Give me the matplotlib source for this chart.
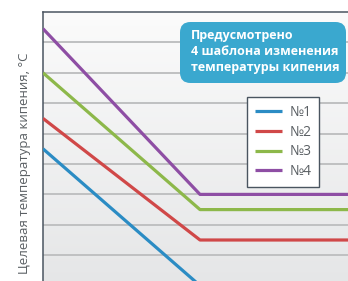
import numpy as np
import matplotlib
matplotlib.use('Agg')
import matplotlib.pyplot as plt
from matplotlib.patches import FancyBboxPatch

# Данные (условные единицы: одна линия сетки = 1)
x = [0, 5, 10]
series = ['№1', '№2', '№3', '№4']
vals_1 = [4.5, 0.0, 0.0]
vals_2 = [5.5, 1.5, 1.5]
vals_3 = [7.0, 2.5, 2.5]
vals_4 = [8.45, 3.0, 3.0]
colors = ['#2b8cc4', '#d04848', '#8db84a', '#8e4ea4']
grid_levels = [1, 2, 3, 4, 5, 6, 7, 8]

plt.rcParams['font.family'] = ['Open Sans', 'DejaVu Sans']

W, H = 348, 281
fig = plt.figure(figsize=(W / 100, H / 100), dpi=100)
fig.patch.set_facecolor('white')

def fx(px):
    return px / W

def fy(py):
    return 1 - py / H

ax = fig.add_axes([fx(43), fy(12 + 9 * 30.4), 314 / W, 9 * 30.4 / H])
ax.set_xlim(0, 10)
ax.set_ylim(0, 9)

# фон с градиентом
grad = np.linspace(0, 1, 256).reshape(-1, 1)
ax.imshow(grad, extent=[0, 10, 0, 9], aspect='auto', origin='lower',
          cmap=matplotlib.colors.LinearSegmentedColormap.from_list('bg', ['#e5e6e7', '#fbfbfb']),
          zorder=0)

for g in grid_levels:
    ax.axhline(g, color='#bfc0c1', lw=1.4, zorder=1)

for vals, name, c in zip([vals_1, vals_2, vals_3, vals_4], series, colors):
    ax.plot(x, vals, color=c, lw=2.3, label=name, zorder=3, solid_capstyle='butt')

for s in ['right', 'bottom']:
    ax.spines[s].set_visible(False)
for s in ['left', 'top']:
    ax.spines[s].set_color('#4a5560')
    ax.spines[s].set_linewidth(1.1)
ax.set_xticks([])
ax.set_yticks([])

leg = ax.legend(loc='upper left', bbox_to_anchor=(fx(247), fy(97)),
                bbox_transform=fig.transFigure, fontsize=10, frameon=True,
                fancybox=False, handlelength=2.0, handletextpad=0.5,
                labelspacing=0.35, borderpad=0.55, borderaxespad=0)
leg.get_frame().set_edgecolor('#4a5560')
leg.get_frame().set_linewidth(1.0)
leg.get_frame().set_facecolor('white')
leg.get_frame().set_alpha(1)
for t in leg.get_texts():
    t.set_color('#5a5f63')

# синяя плашка
box = FancyBboxPatch((fx(180), fy(83)), fx(346) - fx(180), fy(22) - fy(83),
                     boxstyle='round,pad=0,rounding_size=0.03',
                     transform=fig.transFigure, fc='#3aa8cf', ec='none',
                     mutation_aspect=W / H, zorder=5)
fig.patches.append(box)
fig.text(fx(191), fy(29), 'Предусмотрено\n4 шаблона изменения\nтемпературы кипения',
         color='white', fontsize=9, fontweight='bold', va='top', ha='left',
         linespacing=1.3, zorder=6)

fig.text(fx(25), fy(163), 'Целевая температура кипения, °C', rotation=90,
         ha='center', va='center', fontsize=9.5, color='#5a5f63')

fig.savefig('out.png', dpi=100)
